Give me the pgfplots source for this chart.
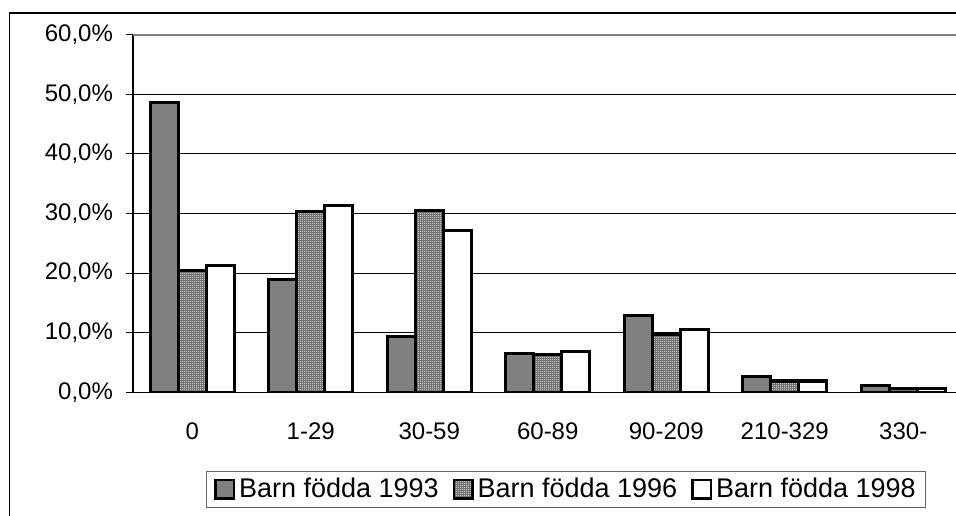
\documentclass[border=0pt]{standalone}
\usepackage{pgfplots}
\pgfplotsset{compat=1.18}
\usepackage{fontspec}
\setmainfont{Liberation Sans}
\usetikzlibrary{patterns.meta}

% fine checkered fill used for the 1996 series
\tikzdeclarepattern{
  name=finegrid,
  type=uncolored,
  bounding box={(-0.1pt,-0.1pt) and (1.1pt,1.1pt)},
  tile size={(1pt,1pt)},
  code={
    \draw[line width=0.3pt] (0,0.5pt) -- (1pt,0.5pt);
    \draw[line width=0.3pt] (0.5pt,0) -- (0.5pt,1pt);
  }
}

\begin{document}
\begin{tikzpicture}
\useasboundingbox (0,0) rectangle (478pt,257.5pt);
\clip (0,0) rectangle (478pt,257.5pt);
% chart area frame
\draw[black, line width=0.6pt] (4.75pt,-10pt) rectangle (600pt,251pt);
\begin{axis}[
  at={(66.5pt,61.35pt)}, anchor=south west,
  scale only axis,
  width=414.75pt, height=178.8pt,
  xmin=-0.5, xmax=6.5,
  ymin=0, ymax=60,
  axis x line*=bottom, axis y line*=left,
  axis line style={black, line width=0.8pt},
  ybar=0pt, bar width=14pt,
  xtick={0,...,6},
  xticklabels={0,1-29,30-59,60-89,90-209,210-329,330-},
  major x tick style={draw=none},
  extra x ticks={0.5,1.5,2.5,3.5,4.5,5.5},
  extra x tick labels={},
  extra x tick style={tick align=outside, major tick length=4pt,
    tick style={black, line width=0.5pt}, grid=none},
  ytick={0,10,...,60},
  yticklabels={{0,0\%},{10,0\%},{20,0\%},{30,0\%},{40,0\%},{50,0\%},{60,0\%}},
  ymajorgrids,
  grid style={black, line width=0.5pt},
  tick align=outside,
  major tick length=3.5pt,
  ytick style={black, line width=0.5pt},
  tick label style={font=\fontsize{12}{14}\selectfont},
  yticklabel style={xshift=-3pt},
  xticklabel style={yshift=-8pt},
  legend columns=3,
  legend style={
    at={(0.522,-0.2713)}, anchor=center,
    draw=black!60, line width=0.5pt,
    font=\fontsize{13.5}{15}\selectfont,
    inner xsep=4pt, inner ysep=2.5pt,
    nodes={inner sep=1pt},
    /tikz/every even column/.append style={column sep=6pt},
    /tikz/every odd column/.append style={column sep=1pt},
  },
  legend image code/.code={
    \draw[#1, line width=1.2pt] (0pt,-4.6pt) rectangle (9.2pt,4.6pt);
  },
]
\addplot[draw=black, line width=1.6pt, fill=black!50]
  coordinates {(0,48.6) (1,18.9) (2,9.3) (3,6.5) (4,12.9) (5,2.7) (6,1.2)};
\addplot[draw=black, line width=1.6pt, fill=black!22,
  postaction={pattern=finegrid, pattern color=black!55}]
  coordinates {(0,20.5) (1,30.3) (2,30.5) (3,6.4) (4,9.8) (5,1.9) (6,0.6)};
\addplot[draw=black, line width=1.6pt, fill=white]
  coordinates {(0,21.3) (1,31.4) (2,27.2) (3,6.9) (4,10.6) (5,1.9) (6,0.7)};
\legend{Barn födda 1993,Barn födda 1996,Barn födda 1998}
% plot-area border along the top
\draw[black!50, line width=1pt] (rel axis cs:0,1) -- (rel axis cs:1,1);
\end{axis}
\end{tikzpicture}
\end{document}
